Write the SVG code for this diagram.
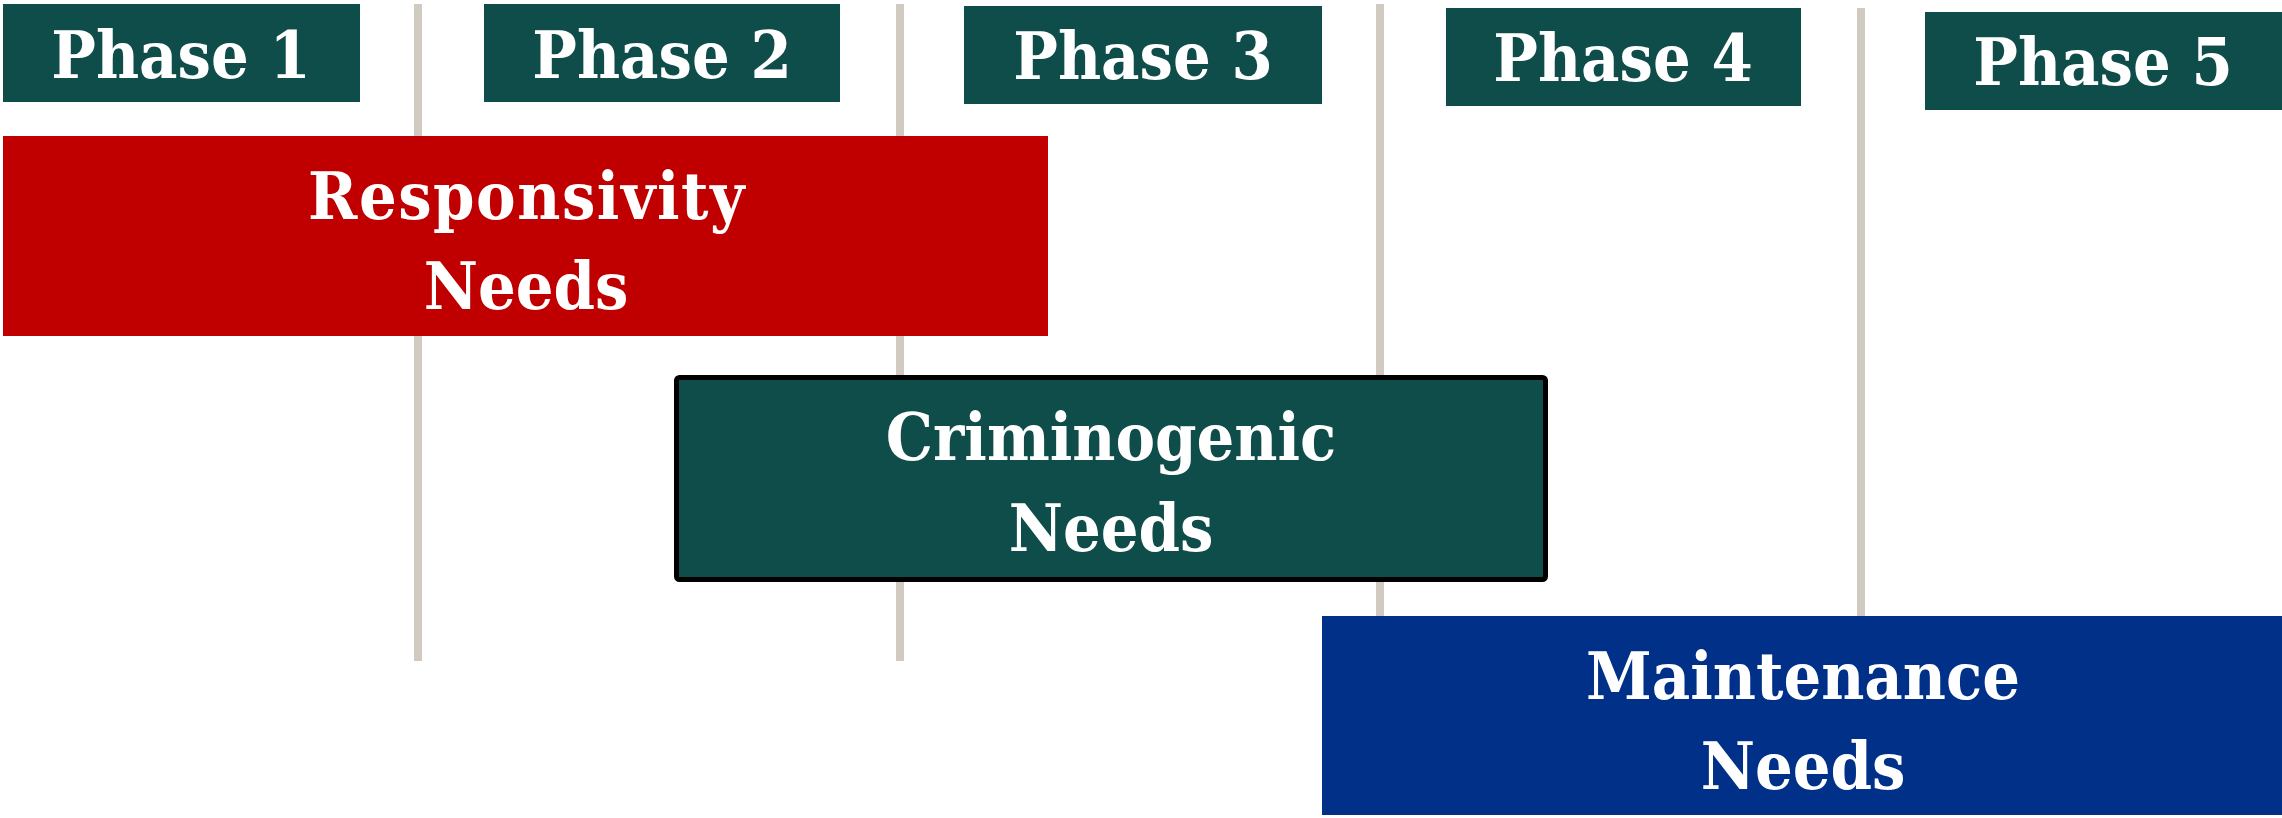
<svg xmlns="http://www.w3.org/2000/svg" width="2282" height="818" viewBox="0 0 2282 818">
<style>
.ph{fill:#0F4D4A}
.t{font-family:"DejaVu Serif Condensed","DejaVu Serif",serif;font-stretch:condensed;font-weight:bold;font-size:66px;fill:#FFFFFF;text-anchor:middle}
.vl{stroke:#D0CAC0;stroke-width:8}
</style>
<rect width="2282" height="818" fill="#FFFFFF"/>
<g id="connectors">
<line class="vl" x1="418" y1="4" x2="418" y2="661"/>
<line class="vl" x1="900" y1="4" x2="900" y2="661"/>
<line class="vl" x1="1380" y1="4" x2="1380" y2="661"/>
<line class="vl" x1="1861" y1="8" x2="1861" y2="661"/>
</g>
<g id="phase1"><rect class="ph" x="3" y="4" width="357" height="98"/><text class="t" x="181" y="78">Phase 1</text></g>
<g id="phase2"><rect class="ph" x="484" y="4" width="356" height="98"/><text class="t" x="662" y="78">Phase 2</text></g>
<g id="phase3"><rect class="ph" x="964" y="6" width="358" height="98"/><text class="t" x="1143" y="79">Phase 3</text></g>
<g id="phase4"><rect class="ph" x="1446" y="8" width="355" height="98"/><text class="t" x="1623" y="81">Phase 4</text></g>
<g id="phase5"><rect class="ph" x="1925" y="12" width="357" height="98"/><text class="t" x="2103" y="85">Phase 5</text></g>
<g id="responsivity"><rect x="3" y="136" width="1045" height="200" fill="#C00000"/><text class="t" x="527" y="219" letter-spacing="1.5">Responsivity</text><text class="t" x="526" y="309">Needs</text></g>
<g id="criminogenic"><rect x="676.5" y="377.5" width="869" height="202" rx="3" fill="#0F4D4A" stroke="#000000" stroke-width="5"/><text class="t" x="1111" y="460">Criminogenic</text><text class="t" x="1111" y="551">Needs</text></g>
<g id="maintenance"><rect x="1322" y="616" width="960" height="199" fill="#003087"/><text class="t" x="1803" y="699">Maintenance</text><text class="t" x="1803" y="789">Needs</text></g>
</svg>
